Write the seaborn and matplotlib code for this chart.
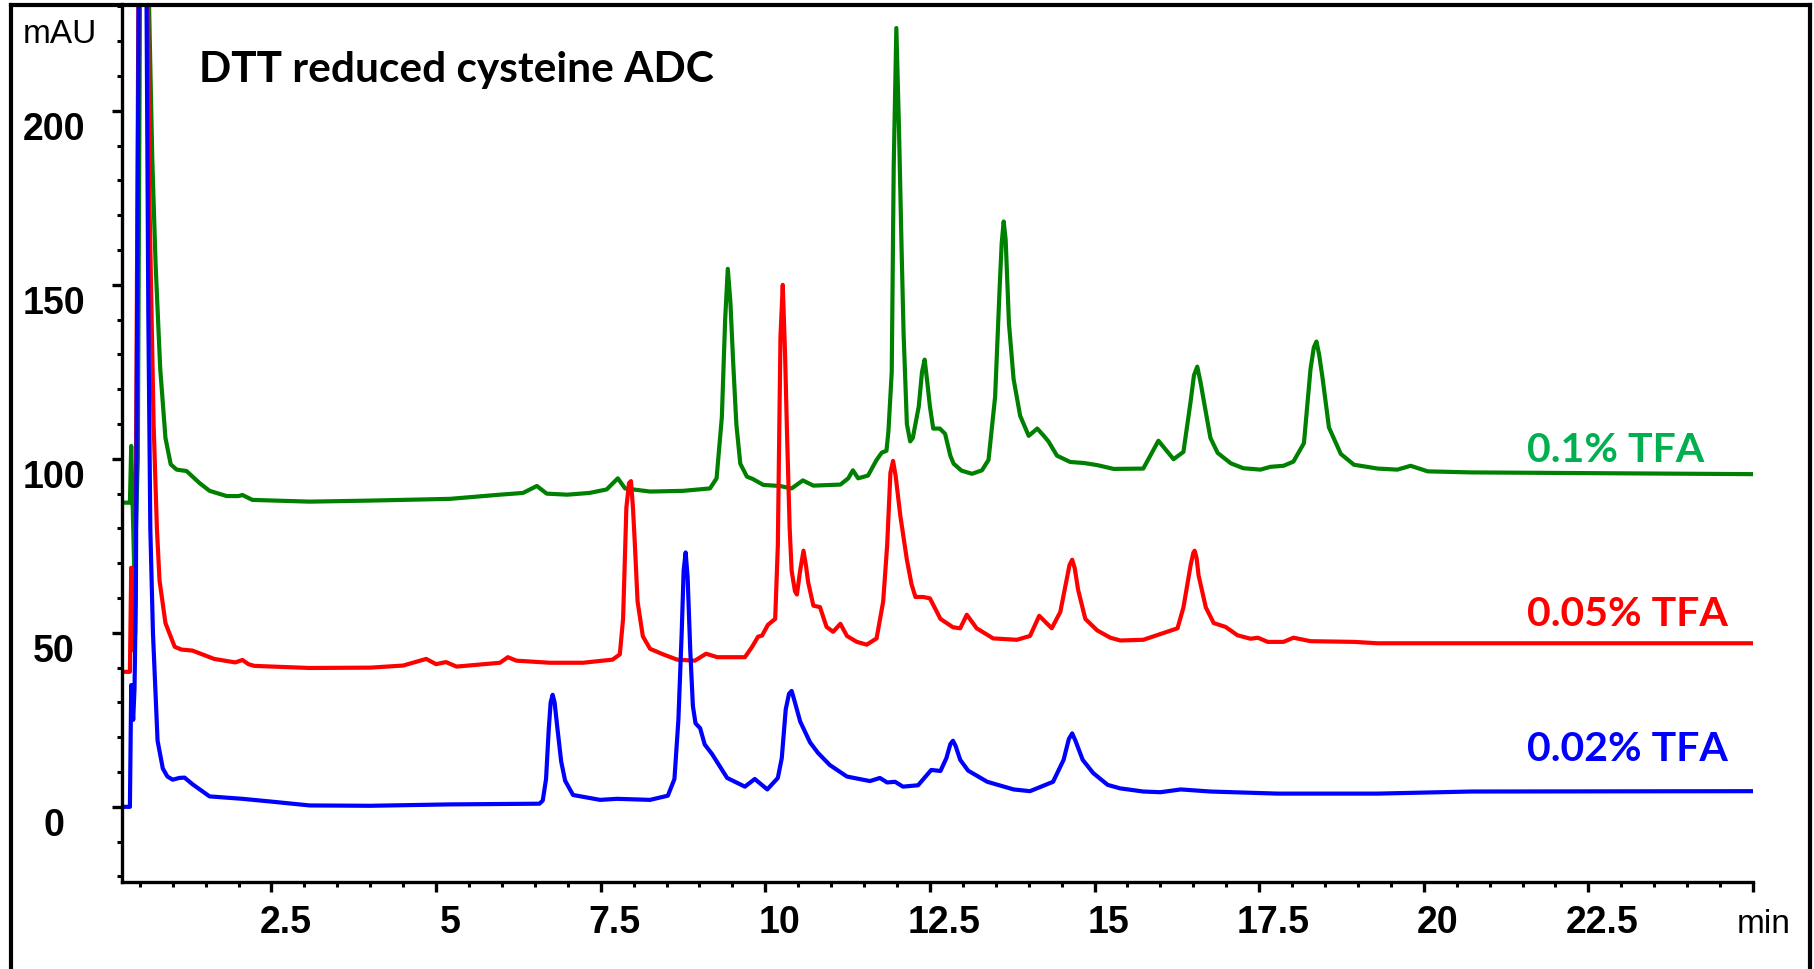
import matplotlib
matplotlib.use("Agg")
import matplotlib.pyplot as plt
from matplotlib.lines import Line2D
from matplotlib.transforms import ScaledTranslation
import numpy as np
import pandas as pd
import seaborn as sns

# retention time (min) / absorbance (mAU)
t_01 = [0.23, 0.35, 0.37, 0.42, 0.47, 0.55, 0.63, 0.69, 0.74, 0.81, 0.89, 0.97, 1.06,
        1.21, 1.41, 1.56, 1.82, 2.00, 2.06, 2.21, 3.08, 4.00, 5.21, 5.97, 6.32, 6.53,
        6.68, 6.99, 7.33, 7.59, 7.76, 7.87, 8.25, 8.75, 9.16, 9.26, 9.34, 9.39, 9.43,
        9.47, 9.51, 9.56, 9.62, 9.72, 9.81, 9.97, 10.22, 10.40, 10.57, 10.73, 11.14,
        11.26, 11.33, 11.41, 11.56, 11.69, 11.77, 11.84, 11.87, 11.92, 11.95, 11.99,
        12.03, 12.07, 12.10, 12.15, 12.20, 12.24, 12.33, 12.38, 12.42, 12.46, 12.50,
        12.55, 12.65, 12.73, 12.81, 12.86, 12.98, 13.14, 13.29, 13.39, 13.49, 13.56,
        13.59, 13.62, 13.65, 13.70, 13.77, 13.87, 14.00, 14.13, 14.23, 14.30, 14.43,
        14.63, 14.84, 15.04, 15.29, 15.74, 15.97, 16.20, 16.35, 16.46, 16.51, 16.56,
        16.61, 16.66, 16.76, 16.87, 17.07, 17.26, 17.52, 17.67, 17.87, 18.02, 18.18,
        18.28, 18.33, 18.37, 18.41, 18.46, 18.56, 18.74, 18.94, 19.30, 19.60, 19.80,
        20.06, 20.72, 25.0]
mau_01 = [87.4, 87.4, 103.7, 65.0, 100.0, 420.0, 240.0, 186.0, 156.0, 126.0, 106.0, 98.4, 96.9,
          96.5, 93.0, 90.8, 89.3, 89.3, 89.6, 88.2, 87.7, 88.0, 88.5, 89.7, 90.2, 92.2,
          90.0, 89.7, 90.2, 91.2, 94.4, 91.5, 90.6, 90.8, 91.5, 94.4, 112.0, 140.0, 154.6,
          145.0, 128.4, 110.0, 98.6, 94.9, 94.2, 92.5, 92.2, 91.5, 93.8, 92.3, 92.6,
          94.4, 96.7, 94.4, 95.2, 99.7, 101.8, 102.3, 108.0, 125.0, 184.0, 223.8,
          195.0, 160.0, 136.0, 110.0, 105.0, 106.0, 115.0, 125.0, 128.5, 122.0, 115.0,
          108.7, 108.7, 107.2, 100.9, 98.6, 96.6, 95.7, 96.7, 99.7, 117.8, 149.7,
          162.0, 168.2, 163.0, 139.0, 123.0, 112.4, 106.6, 108.7, 106.6, 105.0, 100.9,
          99.1, 98.8, 98.2, 97.1, 97.2, 105.2, 99.9, 102.0, 116.6, 124.0, 126.5,
          122.0, 116.6, 106.0, 101.7, 98.7, 97.3, 96.9, 97.7, 98.0, 99.2, 104.5,
          125.8, 132.0, 133.7, 130.0, 123.6, 109.0, 101.4, 98.3, 97.2, 96.9, 98.0,
          96.4, 96.1, 95.6]

t_005 = [0.23, 0.35, 0.37, 0.40, 0.43, 0.53, 0.62, 0.65, 0.71, 0.76, 0.80, 0.89, 1.03,
         1.13, 1.30, 1.63, 1.95, 2.06, 2.15, 2.24, 3.08, 4.00, 4.50, 4.85, 5.00, 5.15,
         5.31, 5.97, 6.09, 6.22, 6.73, 7.23, 7.68, 7.79, 7.84, 7.89, 7.93, 7.96, 7.99,
         8.02, 8.06, 8.14, 8.25, 8.45, 8.66, 8.93, 9.10, 9.27, 9.69, 9.80, 9.89, 9.95,
         10.04, 10.15, 10.19, 10.23, 10.265, 10.30, 10.33, 10.37, 10.40, 10.45, 10.48,
         10.53, 10.58, 10.62, 10.65, 10.73, 10.83, 10.93, 11.03, 11.14, 11.24, 11.39,
         11.54, 11.69, 11.79, 11.85, 11.90, 11.94, 11.98, 12.05, 12.15, 12.22, 12.28,
         12.40, 12.50, 12.66, 12.85, 12.96, 13.06, 13.21, 13.46, 13.82, 14.02, 14.16,
         14.35, 14.48, 14.57, 14.62, 14.66, 14.70, 14.75, 14.86, 15.04, 15.24, 15.39,
         15.74, 16.26, 16.35, 16.46, 16.50, 16.52, 16.55, 16.58, 16.69, 16.81, 16.99,
         17.17, 17.37, 17.48, 17.63, 17.87, 18.02, 18.28, 18.94, 19.30, 20.72, 25.0]
mau_005 = [38.8, 38.8, 68.7, 45.0, 50.0, 420.0, 240.0, 171.0, 110.0, 80.0, 65.0, 52.8, 46.0,
           45.2, 44.9, 42.5, 41.5, 42.2, 41.0, 40.5, 39.9, 40.0, 40.6, 42.5, 41.0, 41.6,
           40.3, 41.4, 43.0, 42.0, 41.4, 41.4, 42.3, 43.8, 54.0, 86.0, 93.0, 93.6, 86.0,
           75.0, 59.0, 49.0, 45.4, 43.8, 42.3, 42.0, 44.0, 43.0, 43.0, 46.0, 48.9, 49.2,
           52.3, 54.0, 75.0, 135.0, 150.0, 130.0, 107.0, 80.0, 67.8, 62.0, 61.0,
           68.0, 73.6, 69.0, 64.6, 57.8, 57.4, 51.7, 50.3, 52.6, 49.1, 47.4,
           46.6, 48.4, 59.0, 75.0, 96.0, 99.4, 95.0, 83.7, 71.0, 64.0, 60.3,
           60.3, 59.9, 54.0, 51.6, 51.3, 55.2, 51.3, 48.4, 48.0, 49.1, 54.9,
           51.3, 56.0, 64.6, 69.5, 71.0, 68.5, 62.4, 54.0, 50.7, 48.6, 47.8,
           48.0, 51.3, 57.3, 69.5, 73.0, 73.6, 71.5, 66.5, 57.3, 52.8, 51.7,
           49.3, 48.3, 48.6, 47.4, 47.4, 48.6, 47.6, 47.4, 47.0, 47.0, 47.0]

t_002 = [0.23, 0.35, 0.37, 0.40, 0.42, 0.44, 0.53, 0.60, 0.63, 0.66, 0.70, 0.77, 0.85,
         0.92, 1.00, 1.10, 1.18, 1.30, 1.56, 2.06, 2.50, 3.08, 4.00, 5.21, 6.57, 6.62,
         6.67, 6.71, 6.74, 6.77, 6.80, 6.84, 6.90, 6.96, 7.08, 7.49, 7.75, 8.25, 8.52,
         8.62, 8.68, 8.73, 8.76, 8.79, 8.82, 8.86, 8.90, 8.94, 9.01, 9.08, 9.19, 9.42,
         9.69, 9.84, 10.03, 10.19, 10.25, 10.31, 10.36, 10.40, 10.45, 10.53, 10.68,
         10.80, 10.98, 11.24, 11.59, 11.74, 11.85, 11.97, 12.09, 12.32, 12.52, 12.66,
         12.75, 12.81, 12.85, 12.89, 12.96, 13.08, 13.37, 13.77, 14.02, 14.37, 14.53,
         14.61, 14.66, 14.71, 14.82, 14.98, 15.20, 15.39, 15.74, 16.00, 16.31, 16.76,
         17.78, 19.30, 20.72, 25.0]
mau_002 = [0.0, 0.0, 35.0, 25.0, 34.0, 60.0, 420.0, 240.0, 141.0, 80.0, 50.0, 19.0, 11.0,
           8.7, 7.8, 8.3, 8.4, 6.5, 3.0, 2.3, 1.5, 0.4, 0.3, 0.7, 0.9, 1.8,
           8.0, 22.0, 30.0, 32.2, 30.0, 23.0, 13.0, 7.5, 3.4, 2.0, 2.3, 2.0, 3.2,
           8.0, 25.0, 50.0, 68.0, 73.1, 66.0, 45.0, 29.0, 24.0, 22.6, 17.9, 15.2, 8.3,
           5.8, 8.0, 5.0, 8.3, 14.0, 28.0, 32.5, 33.3, 30.0, 24.5, 18.5,
           15.5, 12.0, 8.7, 7.4, 8.3, 7.0, 7.2, 5.8, 6.2, 10.6, 10.3,
           14.0, 18.0, 19.0, 17.5, 13.5, 10.4, 7.2, 5.0, 4.5, 7.2, 13.5,
           19.5, 21.1, 19.0, 13.5, 9.7, 6.3, 5.3, 4.4, 4.2, 5.0, 4.4,
           3.8, 3.8, 4.4, 4.5]

conditions = ["0.1% TFA", "0.05% TFA", "0.02% TFA"]
line_colors = ["#008000", "#ff0000", "#0000ff"]
text_colors = ["#00b050", "#ff0000", "#0000ff"]
label_t = [21.57, 21.57, 21.57]
label_mau = [99.4, 52.3, 13.5]

x_major = [2.5, 5, 7.5, 10, 12.5, 15, 17.5, 20, 22.5, 25]
x_labels = ["2.5", "5", "7.5", "10", "12.5", "15", "17.5", "20", "22.5", ""]
y_major = [0, 50, 100, 150, 200]

df = pd.concat([
    pd.DataFrame({"time": t_01, "mAU": mau_01, "condition": conditions[0]}),
    pd.DataFrame({"time": t_005, "mAU": mau_005, "condition": conditions[1]}),
    pd.DataFrame({"time": t_002, "mAU": mau_002, "condition": conditions[2]}),
])

sns.set_style("ticks")
plt.rcParams["font.family"] = ["Liberation Sans", "DejaVu Sans"]
plt.rcParams["text.color"] = "black"

W, H = 1814, 970
fig = plt.figure(figsize=(W / 100, H / 100), dpi=100)
ax = fig.add_axes([122 / W, 1 - 883 / H, (1753 - 122) / W, (883 - 5) / H])

sns.lineplot(data=df, x="time", y="mAU", hue="condition", palette=dict(zip(conditions, line_colors)),
             estimator=None, sort=False, linewidth=3.0, legend=False, ax=ax)

ax.set_xlim(0.23, 25)
ax.set_ylim(-21.6, 230.7)
ax.set_xlabel("")
ax.set_ylabel("")
for side in ["top", "right"]:
    ax.spines[side].set_visible(False)
for side in ["left", "bottom"]:
    ax.spines[side].set_linewidth(2.4)
    ax.spines[side].set_color("black")

ax.set_xticks(x_major)
ax.set_xticks(np.arange(0.5, 25, 0.5), minor=True)
ax.set_xticklabels(x_labels)
ax.set_yticks(y_major)
ax.set_yticks(np.arange(-20, 231, 10), minor=True)
ax.set_yticklabels([str(v) for v in y_major])

ax.tick_params(axis="both", which="both", direction="out", bottom=True, left=True,
               top=False, right=False, color="black")
ax.tick_params(axis="both", which="major", length=7, width=2.4, labelsize=27, labelcolor="black")
ax.tick_params(axis="both", which="minor", length=3.5, width=2.2)
ax.tick_params(axis="x", which="major", pad=9)
ax.tick_params(axis="y", which="major", pad=42)
for lab in ax.get_yticklabels():
    lab.set_fontweight("bold")
    lab.set_ha("center")
    lab.set_transform(lab.get_transform() + ScaledTranslation(0, -0.14, fig.dpi_scale_trans))
for lab in ax.get_xticklabels():
    lab.set_fontweight("bold")
    lab.set_transform(lab.get_transform() + ScaledTranslation(0.14, 0, fig.dpi_scale_trans))

for name, col, tx, ty in zip(conditions, text_colors, label_t, label_mau):
    ax.text(tx, ty, name, color=col, fontsize=29.5, fontweight="bold",
            family=["Lato", "DejaVu Sans"], ha="left", va="baseline")

fig.text(199 / W, 1 - 82 / H, "DTT reduced cysteine ADC", fontsize=30.5, fontweight="bold",
         color="black", family=["Lato", "DejaVu Sans"], ha="left", va="baseline")
fig.text(60 / W, 1 - 43 / H, "mAU", fontsize=24, color="black", ha="center", va="baseline")
fig.text(1737 / W, 1 - 933 / H, "min", fontsize=24, color="black", ha="left", va="baseline")

# outer frame of the original figure
frame = dict(color="black", linewidth=3, solid_capstyle="projecting")
fig.add_artist(Line2D([10.5 / W, 10.5 / W], [0, 1 - 5.5 / H], **frame))
fig.add_artist(Line2D([10.5 / W, 1809.5 / W], [1 - 5.5 / H, 1 - 5.5 / H], **frame))
fig.add_artist(Line2D([1809.5 / W, 1809.5 / W], [0, 1 - 5.5 / H], **frame))

fig.savefig("out.png", dpi=100)
